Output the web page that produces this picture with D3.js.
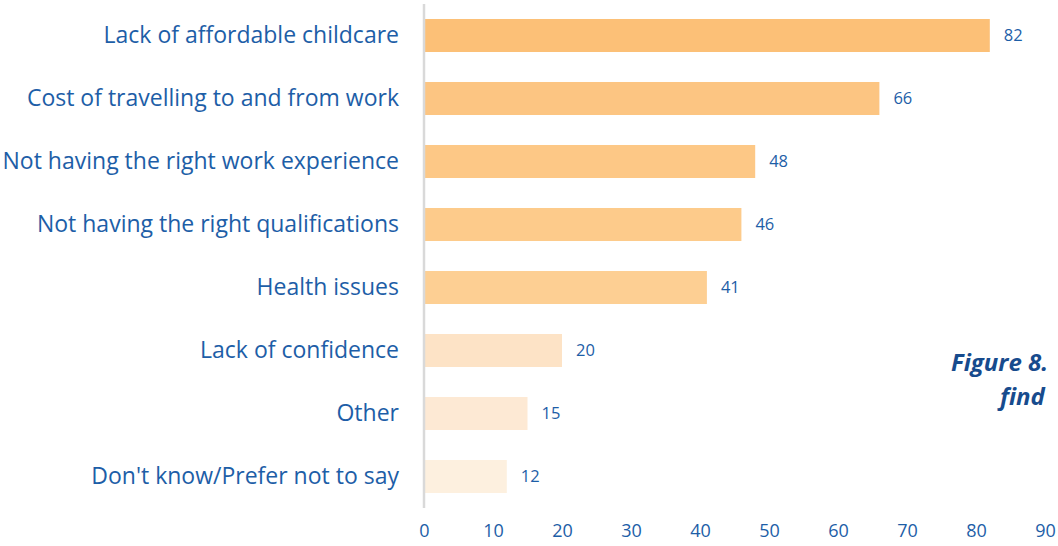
<!DOCTYPE html>
<html>
<head>
<meta charset="utf-8">
<script src="https://cdn.jsdelivr.net/npm/d3@7"></script>
<style>
  html, body { margin: 0; padding: 0; background: #fff; overflow: hidden; }
  svg { display: block; font-family: "Open Sans", sans-serif; }
</style>
</head>
<body>
<svg id="chart" width="1058" height="546"></svg>
<script>
// Barriers to work: share of respondents (%)
const categories = [
  "Lack of affordable childcare",
  "Cost of travelling to and from work",
  "Not having the right work experience",
  "Not having the right qualifications",
  "Health issues",
  "Lack of confidence",
  "Other",
  "Don't know/Prefer not to say"
];
const values = [82, 66, 48, 46, 41, 20, 15, 12];
const barColors = ["#FCC077", "#FCC582", "#FDC886", "#FDCB8B", "#FDCF93", "#FDE3C6", "#FDE9D4", "#FDF0DF"];
const tickValues = [0, 10, 20, 30, 40, 50, 60, 70, 80, 90];

const svg = d3.select("#chart");
const blue = "#1D5EA7";

const x = d3.scaleLinear().domain([0, 90]).range([424, 1045]);
const y = d3.scaleBand().domain(categories).range([4, 508])
  .paddingInner(0.476).paddingOuter(0.238);

// bars
svg.append("g").selectAll("rect")
  .data(categories)
  .join("rect")
  .attr("x", x(0))
  .attr("y", d => y(d))
  .attr("width", (d, i) => x(values[i]) - x(0))
  .attr("height", y.bandwidth())
  .attr("fill", (d, i) => barColors[i]);

// category axis
const yAxis = svg.append("g")
  .attr("transform", `translate(${x(0)},0)`)
  .call(d3.axisLeft(y).tickSize(0).tickPadding(25));
yAxis.select(".domain").attr("stroke", "#D9D9D9").attr("stroke-width", 2.5)
  .attr("d", `M0,4V508`);
yAxis.selectAll("text")
  .attr("fill", blue)
  .style("font-size", "23px")
  .style("font-family", "'Open Sans', sans-serif");

// value axis (labels only)
const xAxis = svg.append("g")
  .attr("transform", "translate(0,524)")
  .call(d3.axisBottom(x).tickValues(tickValues).tickSize(0).tickPadding(0));
xAxis.select(".domain").remove();
xAxis.selectAll("text")
  .attr("fill", blue)
  .attr("dy", "0.71em")
  .style("font-size", "18px")
  .style("font-family", "'Open Sans', sans-serif");

// value labels
svg.append("g").selectAll("text")
  .data(categories)
  .join("text")
  .attr("x", (d, i) => x(values[i]) + 14)
  .attr("y", d => y(d) + y.bandwidth() / 2)
  .attr("dy", "0.35em")
  .attr("fill", blue)
  .style("font-size", "16.5px")
  .text((d, i) => values[i]);

// figure caption (runs off the right edge)
const cap = svg.append("g")
  .attr("fill", "#174B8D")
  .style("font-weight", "700")
  .style("font-style", "italic")
  .style("font-size", "24px");
cap.append("text").attr("x", 951).attr("y", 371).text("Figure 8.");
cap.append("text").attr("x", 1000).attr("y", 405).text("find");
</script>
</body>
</html>
